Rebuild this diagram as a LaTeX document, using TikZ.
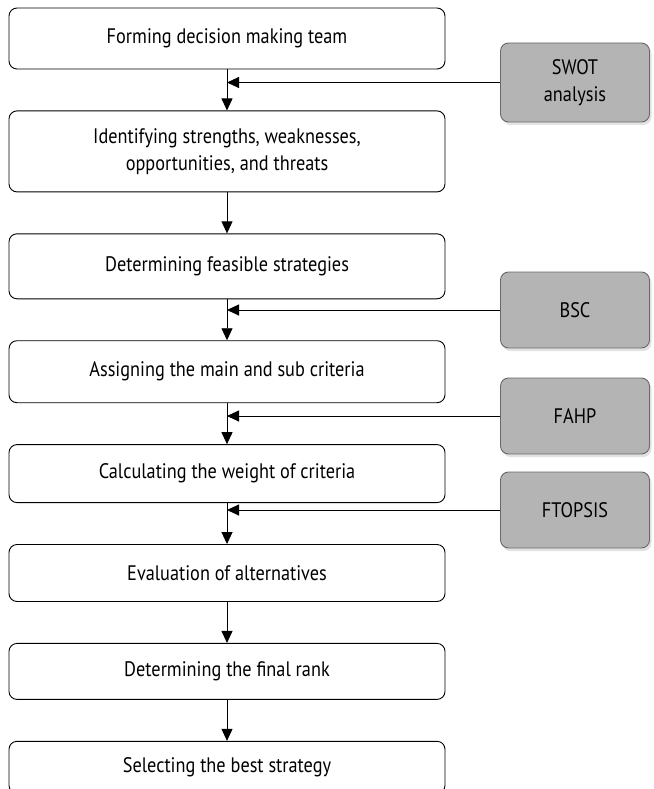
\documentclass[tikz,border=0pt]{standalone}
\usepackage{fontspec}
\setmainfont[FakeStretch=0.87]{PT Sans}
\usepackage{tikz}
\usetikzlibrary{positioning, arrows.meta, shadows}
\definecolor{toolfill}{RGB}{180,180,180}
\definecolor{tooledge}{RGB}{105,105,105}
\tikzset{
  stage/.style={rectangle, draw, rounded corners=8pt, align=center, line width=0.9pt,
                minimum width=436pt, inner sep=3pt},
  tool/.style={rectangle, draw=tooledge, rounded corners=8pt, align=center, fill=toolfill,
               minimum width=149pt, minimum height=76pt, line width=0.9pt, inner sep=3pt,
               drop shadow={shadow xshift=2pt, shadow yshift=-3pt, fill=gray!45}},
  arr/.style={-{Triangle[length=12pt, width=11pt]}, line width=0.9pt},
}

\begin{document}
\begin{tikzpicture}[x=1pt, y=-1pt, node distance=41pt, font=\fontsize{21}{27}\selectfont]
  \useasboundingbox (0,0) rectangle (653,789);
  % main steps
  \node[stage, minimum height=61pt] (team) at (227,38.5) {Forming decision making team};
  \node[stage, minimum height=81pt, below=of team]   (swotid) {Identifying strengths, weaknesses,\\opportunities, and threats};
  \node[stage, minimum height=65pt, below=of swotid] (feas)   {Determining feasible strategies};
  \node[stage, minimum height=62pt, below=of feas]   (crit)   {Assigning the main and sub criteria};
  \node[stage, minimum height=58pt, below=of crit]   (weight) {Calculating the weight of criteria};
  \node[stage, minimum height=57pt, below=of weight] (eval)   {Evaluation of alternatives};
  \node[stage, minimum height=56pt, below=of eval]   (rank)   {Determining the final rank};
  \node[stage, minimum height=52pt, below=of rank]   (best)   {Selecting the best strategy};
  % tools
  \node[tool, minimum height=79pt] (swot) at (575,82.5) {SWOT\\analysis};
  \node[tool] (bsc)  at (575,310) {BSC};
  \node[tool] (fahp) at (575,416) {FAHP};
  \node[tool] (ftop) at (575,510) {FTOPSIS};
  \draw[arr] (team)   -- (swotid);
  \draw[arr] (swotid) -- (feas);
  \draw[arr] (feas)   -- (crit);
  \draw[arr] (crit)   -- (weight);
  \draw[arr] (weight) -- (eval);
  \draw[arr] (eval)   -- (rank);
  \draw[arr] (rank)   -- (best);
  \draw[arr] (swot.west) -- (swot.west -| team.south);
  \draw[arr] (bsc.west)  -- (bsc.west -| team.south);
  \draw[arr] (fahp.west) -- (fahp.west -| team.south);
  \draw[arr] (ftop.west) -- (ftop.west -| team.south);
\end{tikzpicture}
\end{document}
